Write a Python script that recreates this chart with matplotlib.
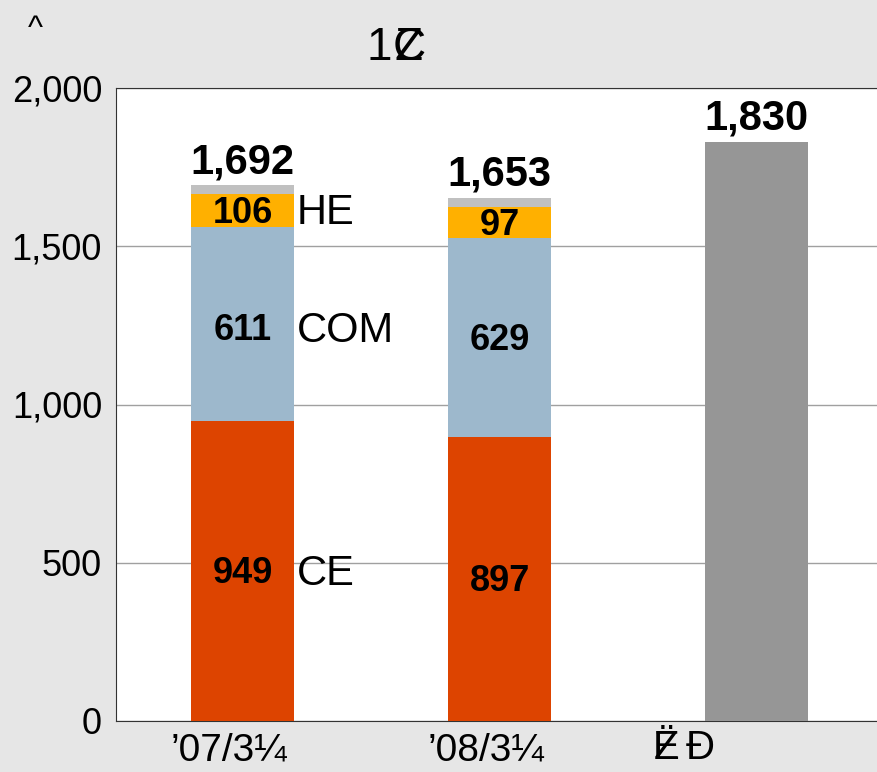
import matplotlib.pyplot as plt
import matplotlib.transforms as mtransforms
import numpy as np

plt.rcParams['font.family'] = ['Liberation Sans', 'DejaVu Sans']

periods = ["\u201907/3\u00bc", "\u201908/3\u00bc", ""]
ce = [949, 897, 0]
com = [611, 629, 0]
he = [106, 97, 0]
other = [26, 30, 0]
plan = [0, 0, 1830]
totals = [1692, 1653, 1830]

c_ce = '#dd4400'
c_com = '#9db8cc'
c_he = '#ffb000'
c_other = '#c0c0c0'
c_plan = '#969696'
bg = '#e6e6e6'

fig = plt.figure(figsize=(8.77, 7.72), dpi=100, facecolor=bg)
ax = fig.add_axes([116 / 877, 1 - 721 / 772, (877 - 116) / 877, (721 - 88) / 772])
ax.set_facecolor('white')

x = np.arange(3)
w = 0.4
ce = np.array(ce)
com = np.array(com)
he = np.array(he)
other = np.array(other)

ax.bar(x, ce, w, color=c_ce, zorder=3)
ax.bar(x, com, w, bottom=ce, color=c_com, zorder=3)
ax.bar(x, he, w, bottom=ce + com, color=c_he, zorder=3)
ax.bar(x, other, w, bottom=ce + com + he, color=c_other, zorder=3)
ax.bar(x, plan, w, color=c_plan, zorder=3)

# segment labels (slightly below the middle, like the source)
com_shift = [-20, -10]
for i in range(2):
    ax.text(x[i], ce[i] / 2 - 8, f'{ce[i]:,}', ha='center', va='center',
            fontsize=26, fontweight='bold', zorder=4)
    ax.text(x[i], ce[i] + com[i] / 2 + com_shift[i], f'{com[i]:,}',
            ha='center', va='center', fontsize=26, fontweight='bold', zorder=4)
    ax.text(x[i], ce[i] + com[i] + he[i] / 2 - 8, f'{he[i]:,}', ha='center',
            va='center', fontsize=26, fontweight='bold', zorder=4)

for i in range(3):
    ax.text(x[i], totals[i] + 10, f'{totals[i]:,}', ha='center', va='bottom',
            fontsize=30, fontweight='bold', zorder=4)

# segment names next to first bar
ax.text(x[0] + w / 2 + 0.01, 466, 'CE', ha='left', va='center', fontsize=30)
ax.text(x[0] + w / 2 + 0.01, 1232, 'COM', ha='left', va='center', fontsize=30)
ax.text(x[0] + w / 2 + 0.01, 1604, 'HE', ha='left', va='center', fontsize=30)

ax.set_xlim(-0.494, 2.47)
ax.set_ylim(0, 2000)
ax.set_yticks([0, 500, 1000, 1500, 2000])
ax.set_yticklabels(['0', '500', '1,000', '1,500', '2,000'], fontsize=26)
ax.set_xticks(x)
ax.set_xticklabels(periods, fontsize=28)
ax.tick_params(axis='y', length=0, pad=10)
ax.tick_params(axis='x', length=0, pad=8)
shift = mtransforms.ScaledTranslation(-14 / 100, 0, fig.dpi_scale_trans)
for lbl in ax.get_xticklabels():
    lbl.set_transform(lbl.get_transform() + shift)
ax.yaxis.grid(True, color='#a0a0a0', linewidth=1, zorder=0)
for s in ['left', 'bottom', 'top']:
    ax.spines[s].set_color('#333333')
ax.spines['right'].set_visible(False)

# garbled header / label glyphs as in the source
fig.text(35 / 877, 1 - 29 / 772, '^', fontsize=23, ha='center', va='center')
fig.text(379 / 877, 1 - 48 / 772, '1', fontsize=33, ha='center', va='center')
fig.text(409 / 877, 1 - 48 / 772, 'Z', fontsize=33, ha='center', va='center')
fig.text(409 / 877, 1 - 48 / 772, 'C', fontsize=33, ha='center', va='center')
fig.text(666 / 877, 1 - 748 / 772, '\u00cb', fontsize=29, ha='center', va='center')
fig.text(666 / 877, 1 - 748 / 772, 'Z', fontsize=29, ha='center', va='center')
fig.text(700 / 877, 1 - 748 / 772, '\u00d0', fontsize=29, ha='center', va='center')

fig.savefig('out.png', dpi=100, facecolor=bg)
